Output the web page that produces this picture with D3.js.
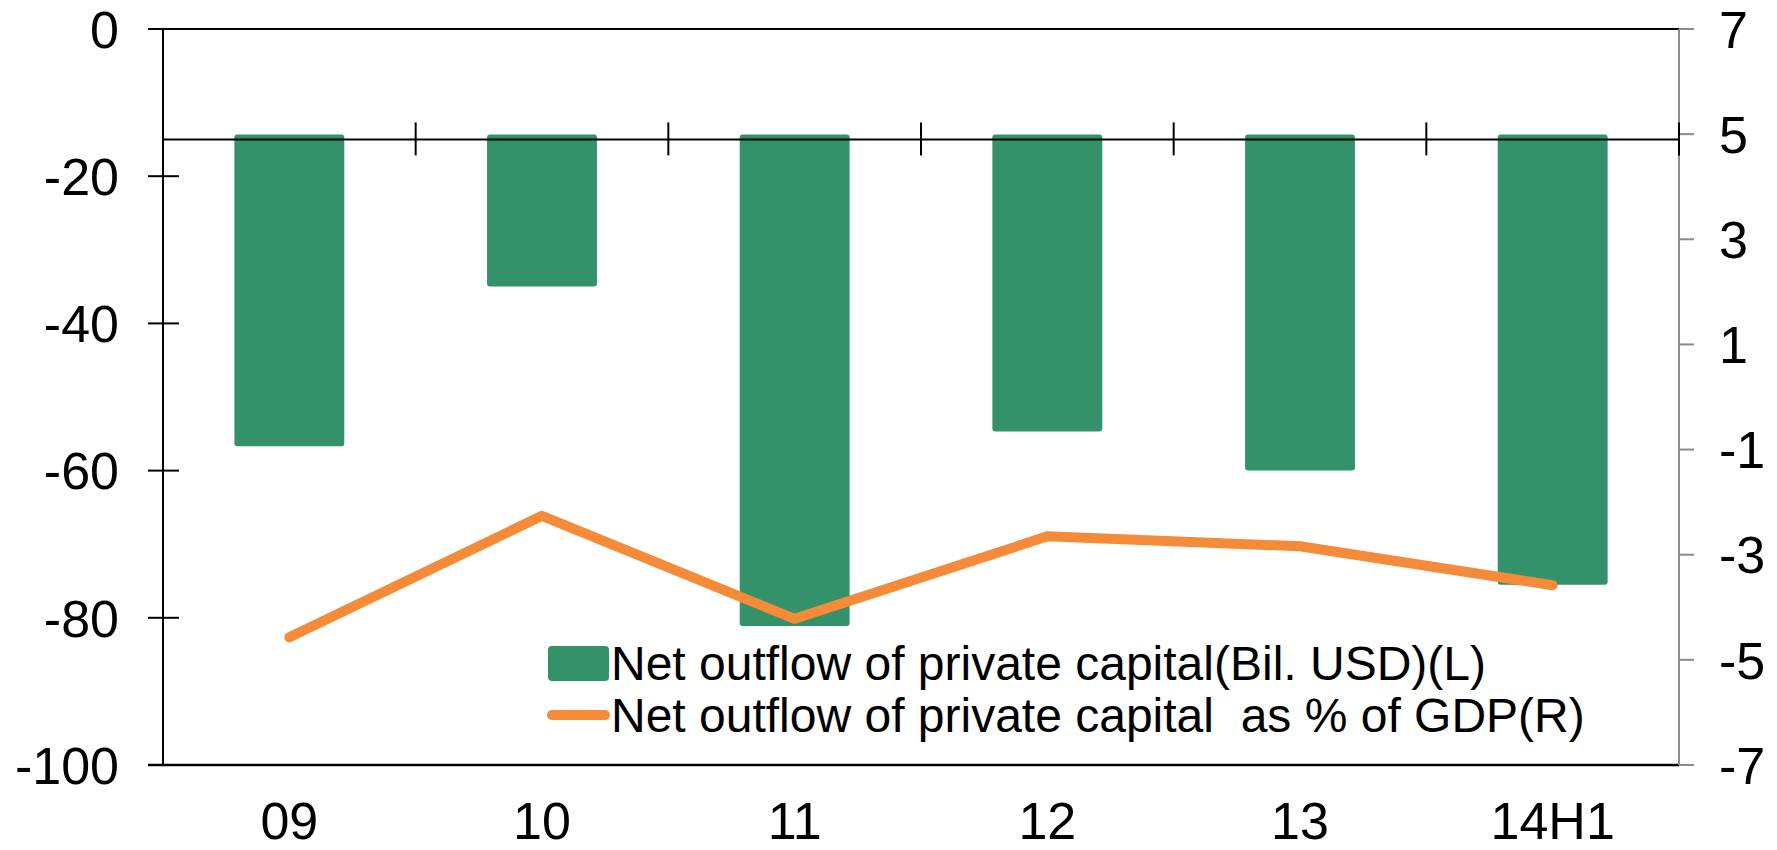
<!DOCTYPE html>
<html>
<head>
<meta charset="utf-8">
<script src="https://cdn.jsdelivr.net/npm/d3@7"></script>
<style>
  body { margin: 0; background: #fff; }
  text { font-family: "Liberation Sans", Arial, sans-serif; fill: #000; }
</style>
</head>
<body>
<svg id="chart"></svg>
<script>
// data
const categories = ['09', '10', '11', '12', '13', '14H1'];
const outflowBil = [-56.7, -35.0, -81.1, -54.7, -60.0, -75.5];   // left axis
const outflowPctGdp = [-4.57, -2.26, -4.22, -2.65, -2.84, -3.58]; // right axis
const leftTicks = [0, -20, -40, -60, -80, -100];
const rightTicks = [7, 5, 3, 1, -1, -3, -5, -7];
const barBase = -15; // category axis crosses the left axis here
const legendLabels = [
  'Net outflow of private capital(Bil. USD)(L)',
  'Net outflow of private capital  as % of GDP(R)'
];

const W = 1777, H = 850;
const margin = {top: 29, right: 98, bottom: 85, left: 163};
const green = '#33926a', orange = '#f58a38';
const tickFont = 52;

const svg = d3.select('#chart').attr('width', W).attr('height', H);

const x = d3.scaleBand()
  .domain(categories)
  .range([margin.left, W - margin.right])
  .paddingInner(0.565)
  .paddingOuter(0.2825);
const yL = d3.scaleLinear().domain([-100, 0]).range([H - margin.bottom, margin.top]);
const yR = d3.scaleLinear().domain([-7, 7]).range([H - margin.bottom, margin.top]);

const x0 = margin.left, x1 = W - margin.right;

// bars
svg.selectAll('.bar')
  .data(categories)
  .join('rect')
  .attr('class', 'bar')
  .attr('x', d => x(d))
  .attr('width', x.bandwidth())
  .attr('y', yL(barBase) - 5)
  .attr('height', (d, i) => yL(outflowBil[i]) - yL(barBase) + 5)
  .attr('rx', 3)
  .attr('fill', green);

// frame: top and bottom lines
svg.append('line').attr('x1', x0 - 15).attr('x2', x1).attr('y1', yL(0)).attr('y2', yL(0))
  .attr('stroke', '#000').attr('stroke-width', 2);
svg.append('line').attr('x1', x0 - 15).attr('x2', x1).attr('y1', yL(-100)).attr('y2', yL(-100))
  .attr('stroke', '#000').attr('stroke-width', 2.5);

// left axis
svg.append('line').attr('x1', x0).attr('x2', x0).attr('y1', yL(0)).attr('y2', yL(-100))
  .attr('stroke', '#000').attr('stroke-width', 2);
svg.selectAll('.ltick').data(leftTicks).join('line')
  .attr('x1', x0 - 15).attr('x2', x0 + 16)
  .attr('y1', d => yL(d)).attr('y2', d => yL(d))
  .attr('stroke', '#000').attr('stroke-width', 2);
svg.selectAll('.llab').data(leftTicks).join('text')
  .attr('x', 119).attr('y', d => yL(d)).attr('dy', '0.36em')
  .attr('text-anchor', 'end').attr('font-size', tickFont)
  .text(d => d);

// right axis (grey)
svg.append('line').attr('x1', x1).attr('x2', x1).attr('y1', yR(7)).attr('y2', yR(-7))
  .attr('stroke', '#8c8c8c').attr('stroke-width', 2);
svg.selectAll('.rtick').data(rightTicks).join('line')
  .attr('x1', x1).attr('x2', x1 + 15)
  .attr('y1', d => yR(d)).attr('y2', d => yR(d))
  .attr('stroke', '#8c8c8c').attr('stroke-width', 2);
svg.selectAll('.rlab').data(rightTicks).join('text')
  .attr('x', x1 + 40).attr('y', d => yR(d)).attr('dy', '0.36em')
  .attr('font-size', tickFont)
  .text(d => d);

// category axis at barBase with ticks at slot boundaries
svg.append('line').attr('x1', x0).attr('x2', x1).attr('y1', yL(barBase)).attr('y2', yL(barBase))
  .attr('stroke', '#000').attr('stroke-width', 2);
svg.selectAll('.ctick').data(categories).join('line')
  .attr('x1', (d, i) => x0 + (i + 1) * x.step())
  .attr('x2', (d, i) => x0 + (i + 1) * x.step())
  .attr('y1', yL(barBase) - 17).attr('y2', yL(barBase) + 16)
  .attr('stroke', '#000').attr('stroke-width', 2);

// x labels
svg.selectAll('.xlab').data(categories).join('text')
  .attr('x', d => x(d) + x.bandwidth() / 2)
  .attr('y', 839)
  .attr('text-anchor', 'middle').attr('font-size', tickFont)
  .text(d => d);

// line series
const line = d3.line()
  .x((d, i) => x(categories[i]) + x.bandwidth() / 2)
  .y(d => yR(d));
svg.append('path').datum(outflowPctGdp)
  .attr('d', line)
  .attr('fill', 'none').attr('stroke', orange)
  .attr('stroke-width', 10).attr('stroke-linecap', 'round').attr('stroke-linejoin', 'round');

// legend
const lg = svg.append('g').attr('transform', 'translate(548,646)');
lg.append('rect').attr('width', 61).attr('height', 35).attr('rx', 4).attr('fill', green);
lg.append('line').attr('x1', 4).attr('x2', 57).attr('y1', 69).attr('y2', 69)
  .attr('stroke', orange).attr('stroke-width', 10).attr('stroke-linecap', 'round');
lg.selectAll('text').data(legendLabels).join('text')
  .attr('x', 63).attr('y', (d, i) => 17 + i * 52).attr('dy', '0.36em')
  .attr('font-size', 48)
  .style('white-space', 'pre')
  .text(d => d);
</script>
</body>
</html>
